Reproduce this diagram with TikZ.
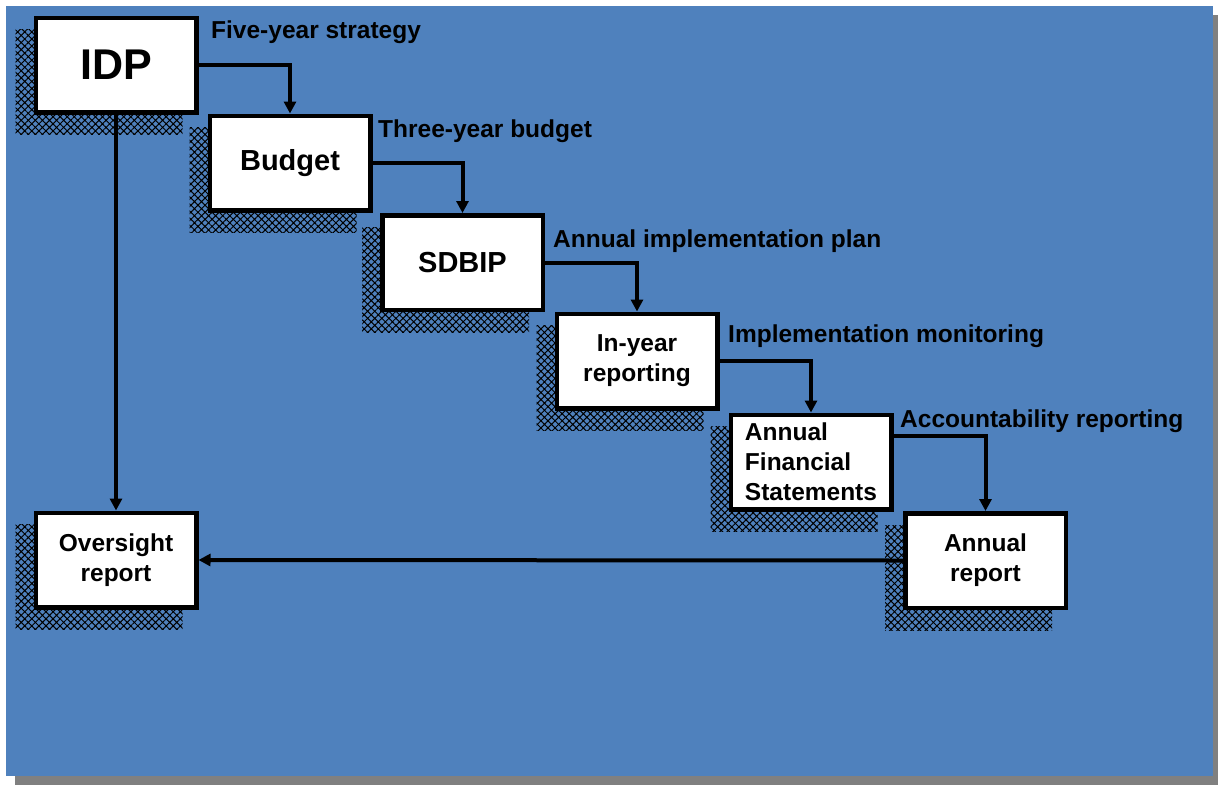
\documentclass[tikz,border=0pt]{standalone}
\usepackage{fontspec}
\setmainfont{Liberation Sans}
\usetikzlibrary{arrows.meta,patterns.meta,calc}
\definecolor{bgblue}{HTML}{4F81BD}
\definecolor{frameshadow}{HTML}{808080}
\pgfdeclarelayer{bg}
\pgfdeclarelayer{shad}
\pgfsetlayers{bg,shad,main}
\begin{document}
\begin{tikzpicture}[x=1pt,y=-1pt,
  box/.style={draw=black,fill=white,line width=4.5pt,minimum width=160.5pt,minimum height=94.5pt,
    inner sep=0pt,font=\fontsize{24.5}{30}\selectfont\bfseries,align=center},
  bigtxt/.style={font=\fontsize{29}{36}\selectfont\bfseries},
  lbl/.style={anchor=base west,inner sep=0pt,font=\fontsize{24.5}{28}\selectfont\bfseries},
  conn/.style={line width=4pt,-{Triangle[width=12pt,length=12pt]}},
  hatchfill/.style={pattern={Hatch[angle=45,distance=5pt,line width=1pt]},pattern color=black}
]
\useasboundingbox (0,0) rectangle (1218,785);
\begin{pgfonlayer}{bg}
  \fill[frameshadow] (15,15) rectangle (1218,785);
  \fill[bgblue] (6,6) rectangle (1213,776);
\end{pgfonlayer}

\node[box,font=\fontsize{43}{50}\selectfont\bfseries] (idp) at (116,65) {IDP};
\node[box,bigtxt] (budget) at (290,163) {Budget};
\node[box,bigtxt] (sdbip) at (462.5,262.5) {SDBIP};
\node[box] (inyear) at (637,361) {In-year\\reporting};
\node[box,align=left] (afs) at (811,462) {Annual\\Financial\\Statements};
\node[box] (ar) at (985.5,560.5) {Annual\\report};
\node[box] (over) at (116,560) {Oversight\\report};

\begin{pgfonlayer}{shad}
  \foreach \n in {idp,budget,sdbip,inyear,afs,ar,over}{
    \fill[hatchfill] ($(\n.north west)+(-18,14)$) rectangle ($(\n.south east)+(-16,20)$);
  }
\end{pgfonlayer}

\node[lbl] (l1) at (211,38) {Five-year strategy};
\node[lbl] (l2) at (378,137) {Three-year budget};
\node[lbl] (l3) at (553,247) {Annual implementation plan};
\node[lbl] (l4) at (728,342) {Implementation monitoring};
\node[lbl] (l5) at (900,427) {Accountability reporting};

\draw[conn] (idp.east) -| (budget.north);
\draw[conn] (budget.east) -| (sdbip.north);
\draw[conn] (sdbip.east) -| (inyear.north);
\draw[conn] (inyear.east) -| (afs.north);
\draw[conn] ($(afs.north east)+(0,23)$) -| (ar.north);
\draw[conn] (idp.south) -- (over.north);
\draw[conn] (ar.west) -- (over.east);
\end{tikzpicture}
\end{document}
